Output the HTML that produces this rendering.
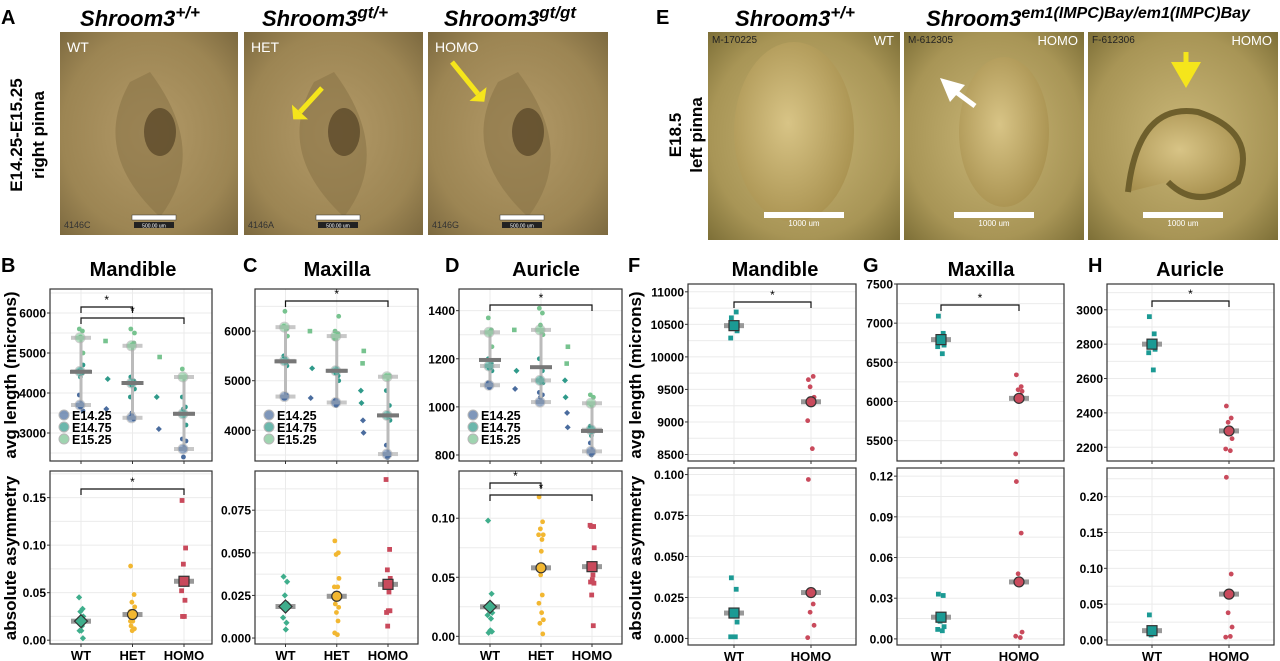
<!DOCTYPE html>
<html><head><meta charset="utf-8"><style>
body{margin:0;background:#fff;}
svg{display:block;font-family:"Liberation Sans",Arial,sans-serif;}
</style></head><body>
<svg id="fig" width="1280" height="661" viewBox="0 0 1280 661" xmlns="http://www.w3.org/2000/svg">
<defs>
<radialGradient id="gA" cx="50%" cy="50%" r="70%"><stop offset="0" stop-color="#b39a68"/><stop offset="0.7" stop-color="#9c8553"/><stop offset="1" stop-color="#7d6a40"/></radialGradient>
<radialGradient id="gE" cx="50%" cy="50%" r="70%"><stop offset="0" stop-color="#c9b677"/><stop offset="0.7" stop-color="#a89556"/><stop offset="1" stop-color="#7e7038"/></radialGradient>
<radialGradient id="ear" cx="45%" cy="45%" r="60%"><stop offset="0" stop-color="#d8c486"/><stop offset="1" stop-color="#a8914f"/></radialGradient>
</defs>
<g id="photos"></g>
<g id="plots"></g>
</svg>
<script>
const NS="http://www.w3.org/2000/svg";
const svg=document.getElementById('fig');
function el(tag,attrs,parent,text){const e=document.createElementNS(NS,tag);for(const k in attrs)e.setAttribute(k,attrs[k]);if(text!==undefined)e.textContent=text;(parent||svg).appendChild(e);return e;}
const photos=document.getElementById('photos');
const plots=document.getElementById('plots');

/* ---------- Photo panels ---------- */
const photoA=[[60,32,178,203,'WT','4146C'],[244,32,179,203,'HET','4146A'],[428,32,180,203,'HOMO','4146G']];
photoA.forEach((p,i)=>{
  const g=el('g',{},photos);
  
  
  el('rect',{x:p[0],y:p[1],width:p[2],height:p[3],fill:'url(#gA)'},g);
  el('path',{d:`M${p[0]+70} ${p[1]+50} Q${p[0]+30} ${p[1]+120} ${p[0]+100} ${p[1]+185} Q${p[0]+150} ${p[1]+120} ${p[0]+90} ${p[1]+40} Z`,fill:'#8a7447',opacity:0.6},g);
  el('ellipse',{cx:p[0]+100,cy:p[1]+100,rx:16,ry:24,fill:'#5c4a2a',opacity:0.8},g);
  el('text',{x:p[0]+7,y:p[1]+20,fill:'#fff','font-size':14},g,p[4]);
  el('text',{x:p[0]+4,y:p[1]+196,fill:'#333','font-size':9},g,p[5]);
  el('rect',{x:p[0]+72,y:p[1]+183,width:44,height:5,fill:'#fff',stroke:'#333','stroke-width':0.5},g);
  el('rect',{x:p[0]+74,y:p[1]+190,width:40,height:6,fill:'#222'},g);
  el('text',{x:p[0]+94,y:p[1]+195.5,fill:'#fff','font-size':5,'text-anchor':'middle'},g,'500.00 um');
});
[[322,88,300,112],[452,62,478,94]].forEach((a,i)=>{
  const ar=el('path',{d:`M${a[0]} ${a[1]} L${a[2]} ${a[3]}`,stroke:'#f5e51b','stroke-width':5},photos);
  
  
  const dx=a[2]-a[0],dy=a[3]-a[1],L=Math.hypot(dx,dy),ux=dx/L,uy=dy/L;
  el('polygon',{points:`${a[2]+ux*10},${a[3]+uy*10} ${a[2]-uy*11},${a[3]+ux*11} ${a[2]+uy*11},${a[3]-ux*11}`,fill:'#f5e51b'},photos);
});
const photoE=[[708,32,192,208,'WT','M-170225'],[904,32,180,208,'HOMO','M-612305'],[1088,32,190,208,'HOMO','F-612306']];
photoE.forEach((p,i)=>{
  const g=el('g',{},photos);
  
  
  el('rect',{x:p[0],y:p[1],width:p[2],height:p[3],fill:'url(#gE)'},g);
  if(i<2) el('ellipse',{cx:p[0]+p[2]/2+(i?10:-10),cy:p[1]+100,rx:i?45:60,ry:i?75:90,fill:'url(#ear)'},g);
  else el('path',{d:`M${p[0]+40} ${p[1]+160} Q${p[0]+50} ${p[1]+70} ${p[0]+110} ${p[1]+80} Q${p[0]+170} ${p[1]+100} ${p[0]+150} ${p[1]+150} Q${p[0]+110} ${p[1]+180} ${p[0]+80} ${p[1]+150}`,fill:'url(#ear)',stroke:'#6e5f2c','stroke-width':6},g);
  el('text',{x:p[0]+4,y:p[1]+11,fill:'#222','font-size':10},g,p[5]);
  el('text',{x:p[0]+p[2]-6,y:p[1]+13,fill:'#fff','font-size':13,'text-anchor':'end'},g,p[4]);
  el('rect',{x:p[0]+p[2]/2-40,y:p[1]+180,width:80,height:6,fill:'#fff'},g);
  el('text',{x:p[0]+p[2]/2,y:p[1]+194,fill:'#fff','font-size':8,'text-anchor':'middle'},g,'1000 um');
});
(function(){const a=el('path',{d:'M948 86 L975 106',stroke:'#fff','stroke-width':5},photos);
el('polygon',{points:'940,78 965,85 950,102',fill:'#fff'},photos);
const b=el('path',{d:'M1186 52 L1186 64',stroke:'#f5e51b','stroke-width':5},photos);
el('polygon',{points:'1171,62 1201,62 1186,88',fill:'#f5e51b'},photos);})();

function head(x,y,sup,name,fs){const t=el('text',{x:x,y:y,'font-size':22,'font-weight':'bold','font-style':'italic','text-anchor':'middle'},photos);

el('tspan',{},t,'Shroom3');el('tspan',{dy:-8,'font-size':fs||17},t,sup);}
head(140,26,'+/+','genotype-title-wt');head(325,26,'gt/+','genotype-title-het');head(510,26,'gt/gt','genotype-title-homo');
head(795,26,'+/+','genotype-title-e-wt');head(1088,26,'em1(IMPC)Bay/em1(IMPC)Bay','genotype-title-e-homo',16);
function letter(x,y,t){const e=el('text',{x:x,y:y,'font-size':20,'font-weight':'bold'},svg,t);}
letter(1,24,'A');letter(656,24,'E');letter(1,272,'B');letter(243,272,'C');letter(445,272,'D');letter(628,272,'F');letter(863,272,'G');letter(1088,272,'H');
function vtext(x,y,t,name,fs){const e=el('text',{x:x,y:y,'font-size':fs||17,'font-weight':'bold','text-anchor':'middle',transform:`rotate(-90 ${x} ${y})`},svg,t);}
vtext(22,135,'E14.25-E15.25','stage-label-a');vtext(44,135,'right pinna','pinna-label-a');
vtext(681,135,'E18.5','stage-label-e');vtext(702,135,'left pinna','pinna-label-e');
vtext(16,375,'avg length (microns)','y-axis-title-length-left');vtext(16,558,'absolute asymmetry','y-axis-title-asym-left');
vtext(641,375,'avg length (microns)','y-axis-title-length-right');vtext(641,558,'absolute asymmetry','y-axis-title-asym-right');

/* ---------- Chart data ---------- */
const COL={lg:'#77c38f',tl:'#2f9a8a',bl:'#4a6c9e',gr:'#3fae8c',ye:'#f2b731',rd:'#c94a5c',tq:'#1b9a94'};
const groups3=['WT','HET','HOMO'];
const groups2=['WT','HOMO'];
const jit=[-0.12,0.1,-0.04,0.14,-0.15,0.06,0.02,-0.09,0.12,-0.02,0.08,-0.13,0.04,0.15,-0.07,0.11];
const bLenWT15=[5600,5550,5400,5000], bLenWT14_75=[4550,4500,4400,4700], bLenWT14_25=[3950,3700,3650,3550];
const bLenHET15=[5600,5250,5200,5500], bLenHET14_75=[4400,4300,4200,4100,3900], bLenHET14_25=[3400,3350,3500];
const bLenHOMO15=[4600,4400], bLenHOMO14_75=[3900,3650,3600,3200], bLenHOMO14_25=[2850,2600,2400,2800];
const bLenMid1=[5300,4350,3600], bLenMid2=[4900,3900,3100];
const bStageMeans=[[3700,4540,5380],[3380,4250,5180],[2600,3480,4400]];
const bMeans=[4530,4250,3480];
const bAsymWT=[0.045,0.033,0.03,0.025,0.02,0.015,0.01,0.01,0.002], bAsymHET=[0.078,0.048,0.04,0.035,0.03,0.025,0.02,0.015,0.012,0.01,0.012,0.02], bAsymHOMO=[0.147,0.097,0.08,0.062,0.052,0.042,0.025,0.025];
const bAsymMeans=[0.02,0.027,0.062];
const cLenWT15=[6100,6050,6400,5900], cLenWT14_75=[5500,5300,5400], cLenWT14_25=[4650,4700,4650];
const cLenHET15=[6000,5950,5900,6300,5850], cLenHET14_75=[5200,5100,5150,5000], cLenHET14_25=[4600,4550,4500];
const cLenHOMO15=[5100,5100], cLenHOMO14_75=[4800,4500,4300,4200], cLenHOMO14_25=[3700,3500,3450];
const cLenMid1=[6000,5250,4650], cLenMid2=[5600,4800,4200,5350,4550,3950];
const cStageMeans=[[4680,5400,6080],[4560,5200,5900],[3520,4300,5080]];
const cMeans=[5390,5200,4300];
const cAsymWT=[0.036,0.033,0.025,0.02,0.012,0.009,0.005], cAsymHET=[0.057,0.05,0.049,0.035,0.03,0.03,0.025,0.02,0.018,0.015,0.01,0.003,0.002], cAsymHOMO=[0.093,0.052,0.04,0.035,0.03,0.027,0.016,0.015,0.016,0.007];
const cAsymMeans=[0.0185,0.0245,0.0315];
const dLenWT15=[1370,1320,1310,1250], dLenWT14_75=[1200,1180,1160,1150], dLenWT14_25=[1100,1090,1080];
const dLenHET15=[1410,1390,1340,1300], dLenHET14_75=[1200,1150,1110,1100], dLenHET14_25=[1060,1050,1040];
const dLenHOMO15=[1050,1040,1010], dLenHOMO14_75=[920,900,880], dLenHOMO14_25=[850,810,800];
const dLenMid1=[1320,1150,1075], dLenMid2=[1250,1110,975,1180,1040,915];
const dStageMeans=[[1090,1170,1310],[1020,1110,1320],[815,905,1015]];
const dMeans=[1195,1165,900];
const dAsymWT=[0.098,0.036,0.025,0.02,0.018,0.015,0.005,0.003,0.004], dAsymHET=[0.118,0.097,0.091,0.086,0.086,0.082,0.072,0.058,0.057,0.052,0.035,0.028,0.02,0.014,0.011,0.002], dAsymHOMO=[0.094,0.093,0.093,0.075,0.06,0.052,0.048,0.046,0.045,0.035,0.009];
const dAsymMeans=[0.025,0.058,0.059];
const fLenWT=[10600,10690,10440,10400,10290], fLenHOMO=[9650,9700,9540,9380,9020,8590], fLenMeans=[10480,9310];
const fAsymWT=[0.037,0.03,0.015,0.01,0.001,0.001], fAsymHOMO=[0.097,0.021,0.016,0.008,0.0005], fAsymMeans=[0.0155,0.028];
const gLenWT=[7090,6870,6750,6720,6700,6610], gLenHOMO=[6340,6190,6150,6130,5330], gLenMeans=[6790,6040];
const gAsymWT=[0.033,0.032,0.013,0.009,0.007,0.006], gAsymHOMO=[0.116,0.078,0.048,0.005,0.002,0.001], gAsymMeans=[0.016,0.042];
const hLenWT=[2960,2860,2810,2770,2750,2650], hLenHOMO=[2440,2370,2345,2250,2190,2180], hLenMeans=[2800,2295];
const hAsymWT=[0.035,0.012,0.007,0.01], hAsymHOMO=[0.227,0.092,0.038,0.018,0.004,0.005], hAsymMeans=[0.013,0.064];
const bLenTicks=[3000,4000,5000,6000], bAsymTicks=[0,0.05,0.10,0.15], bAsymLabels=['0.00','0.05','0.10','0.15'];
const cLenTicks=[4000,5000,6000], cAsymTicks=[0,0.025,0.05,0.075], cAsymLabels=['0.000','0.025','0.050','0.075'];
const dLenTicks=[800,1000,1200,1400], dAsymTicks=[0,0.05,0.10], dAsymLabels=['0.00','0.05','0.10'];
const fLenTicks=[8500,9000,9500,10000,10500,11000], fAsymTicks=[0,0.025,0.05,0.075,0.1], fAsymLabels=['0.000','0.025','0.050','0.075','0.100'];
const gLenTicks=[5500,6000,6500,7000,7500], gAsymTicks=[0,0.03,0.06,0.09,0.12], gAsymLabels=['0.00','0.03','0.06','0.09','0.12'];
const hLenTicks=[2200,2400,2600,2800,3000], hAsymTicks=[0,0.05,0.1,0.15,0.2], hAsymLabels=['0.00','0.05','0.10','0.15','0.20'];

/* ---------- Plot helpers ---------- */
function panel(name,x0,x1,y0,y1,v0,v1,cats,cx0,cx1,ticks,labels,showX){
  const g=el('g',{},plots);
  
  
  const ys=v=>y1-(v-v0)/(v1-v0)*(y1-y0);
  const xs=i=>cx0+(cx1-cx0)*i/(cats.length-1);
  el('rect',{x:x0,y:y0,width:x1-x0,height:y1-y0,fill:'#fff'},g);
  const st=(ticks[1]-ticks[0])/2;
  for(let k=-6;k<=ticks.length*2+6;k++){const v=ticks[0]+st*k;const yy=ys(v);if(yy>y0&&yy<y1)el('line',{x1:x0,x2:x1,y1:yy,y2:yy,stroke:'#ebebeb','stroke-width':1},g);}
  cats.forEach((c,i)=>{el('line',{x1:xs(i),x2:xs(i),y1:y0,y2:y1,stroke:'#ebebeb'},g);
    el('line',{x1:xs(i),x2:xs(i),y1:y1,y2:y1+3,stroke:'#333'},g);
    if(showX){const t=el('text',{x:xs(i),y:y1+16,'font-size':13,'font-weight':'bold','text-anchor':'middle'},g,c);}});
  ticks.forEach((v,i)=>{const yy=ys(v);el('line',{x1:x0-3,x2:x0,y1:yy,y2:yy,stroke:'#333'},g);
    const t=el('text',{x:x0-4,y:yy+4.5,'font-size':12,'font-weight':'bold','text-anchor':'end'},g,labels?labels[i]:String(v));});
  el('rect',{x:x0,y:y0,width:x1-x0,height:y1-y0,fill:'none',stroke:'#333','stroke-width':1.2},g);
  return {g,xs,ys};
}
function pt(P,shape,x,y,c,r){
  let e;
  if(shape==='c') e=el('circle',{cx:x,cy:y,r:r,fill:c},P.g);
  else if(shape==='s') e=el('rect',{x:x-r,y:y-r,width:2*r,height:2*r,fill:c},P.g);
  else e=el('polygon',{points:`${x},${y-r*1.3} ${x+r*1.3},${y} ${x},${y+r*1.3} ${x-r*1.3},${y}`,fill:c},P.g);
  
  
  return e;
}
function scatter(P,gi,vals,shape,col,spread){vals.forEach((v,k)=>pt(P,shape,P.xs(gi)+jit[k%jit.length]*spread,P.ys(v),col,2.4));}
function bracket(P,i,j,y,name){const g=el('g',{},P.g);
  el('path',{d:`M${P.xs(i)} ${y+6} V${y} H${P.xs(j)} V${y+6}`,fill:'none',stroke:'#111','stroke-width':1.2},g);
  el('text',{x:(P.xs(i)+P.xs(j))/2,y:y-3,'font-size':12,'text-anchor':'middle'},g,'*');}
function meanMark(P,gi,v,shape,col){
  el('rect',{x:P.xs(gi)-10,y:P.ys(v)-2.5,width:20,height:5,fill:'#999'},P.g);
  const e=pt(P,shape,P.xs(gi),P.ys(v),col,5);e.setAttribute('stroke','#333');e.setAttribute('stroke-width','1.2');
  
}
function lenPanel(name,x0,x1,y0,y1,v0,v1,cx0,cx1,ticks,S15,S75,S25,mid1,mid2,stageMeans,means,legend){
  const P=panel(name,x0,x1,y0,y1,v0,v1,groups3,cx0,cx1,ticks,null,false);
  const cols=[COL.bl,COL.tl,COL.lg];
  [S25,S75,S15].forEach((arr,s)=>arr.forEach((vals,gi)=>scatter(P,gi,vals,'c',cols[s],14)));
  mid1.forEach((v,k)=>pt(P,k%3===0?'s':'d',P.xs(0.5)+jit[k]*10,P.ys(v),cols[2-(k%3)],2.3));
  mid2.forEach((v,k)=>pt(P,k%3===0?'s':'d',P.xs(1.5)+jit[k+3]*10,P.ys(v),cols[2-(k%3)],2.3));
  stageMeans.forEach((sm,gi)=>{
    el('line',{x1:P.xs(gi),x2:P.xs(gi),y1:P.ys(sm[0]),y2:P.ys(sm[2]),stroke:'#bbb','stroke-width':3},P.g);
    sm.forEach((v,s)=>{el('rect',{x:P.xs(gi)-10,y:P.ys(v)-2,width:20,height:4,fill:'#c8c8c8'},P.g);
      el('circle',{cx:P.xs(gi)-1,cy:P.ys(v),r:5,fill:cols[s],opacity:0.55,stroke:'#aaa'},P.g);});
    el('rect',{x:P.xs(gi)-11,y:P.ys(means[gi])-2,width:22,height:4,fill:'#777'},P.g);
  });
  if(legend){const lg=el('g',{},P.g);
    ['E14.25','E14.75','E15.25'].forEach((t,s)=>{const yy=y1-46+s*12;
      el('circle',{cx:x0+14,cy:yy,r:5,fill:cols[s],opacity:0.7,stroke:'#999'},lg);
      el('text',{x:x0+22,y:yy+5,'font-size':12.5,'font-weight':'bold'},lg,t);});}
  return P;
}
function asymPanel(name,x0,x1,y0,y1,v0,v1,cx0,cx1,ticks,labels,arrs,means){
  const P=panel(name,x0,x1,y0,y1,v0,v1,groups3,cx0,cx1,ticks,labels,true);
  const sh=['d','c','s'],cl=[COL.gr,COL.ye,COL.rd];
  arrs.forEach((vals,gi)=>scatter(P,gi,vals,sh[gi],cl[gi],16));
  means.forEach((v,gi)=>meanMark(P,gi,v,sh[gi],cl[gi]));
  return P;
}
function twoPanel(name,x0,x1,y0,y1,v0,v1,cx0,cx1,ticks,labels,wt,homo,means,showX){
  const P=panel(name,x0,x1,y0,y1,v0,v1,groups2,cx0,cx1,ticks,labels,showX);
  scatter(P,0,wt,'s',COL.tq,22);scatter(P,1,homo,'c',COL.rd,22);
  meanMark(P,0,means[0],'s',COL.tq);meanMark(P,1,means[1],'c',COL.rd);
  return P;
}
function title(x,t){const e=el('text',{x:x,y:276,'font-size':20,'font-weight':'bold','text-anchor':'middle'},svg,t);}
title(133,'Mandible');title(337,'Maxilla');title(546,'Auricle');title(775,'Mandible');title(981,'Maxilla');title(1190,'Auricle');

let P=lenPanel('mandible-length-b',50,212,289,461,2300,6600,81,184,bLenTicks,
  [bLenWT15,bLenHET15,bLenHOMO15],[bLenWT14_75,bLenHET14_75,bLenHOMO14_75],[bLenWT14_25,bLenHET14_25,bLenHOMO14_25],bLenMid1,bLenMid2,bStageMeans,bMeans,true);
bracket(P,0,1,307,'sig-wt-het');bracket(P,0,2,318,'sig-wt-homo');
P=asymPanel('mandible-asym-b',50,212,471,644,-0.004,0.178,81,184,bAsymTicks,bAsymLabels,[bAsymWT,bAsymHET,bAsymHOMO],bAsymMeans);
bracket(P,0,2,489,'sig-wt-homo');
P=lenPanel('maxilla-length-c',255,418,289,461,3380,6850,285.5,388,cLenTicks,
  [cLenWT15,cLenHET15,cLenHOMO15],[cLenWT14_75,cLenHET14_75,cLenHOMO14_75],[cLenWT14_25,cLenHET14_25,cLenHOMO14_25],cLenMid1,cLenMid2,cStageMeans,cMeans,true);
bracket(P,0,2,301,'sig-wt-homo');
asymPanel('maxilla-asym-c',255,418,471,644,-0.0035,0.098,285.5,388,cAsymTicks,cAsymLabels,[cAsymWT,cAsymHET,cAsymHOMO],cAsymMeans);
P=lenPanel('auricle-length-d',459,622,289,461,775,1490,490,592,dLenTicks,
  [dLenWT15,dLenHET15,dLenHOMO15],[dLenWT14_75,dLenHET14_75,dLenHOMO14_75],[dLenWT14_25,dLenHET14_25,dLenHOMO14_25],dLenMid1,dLenMid2,dStageMeans,dMeans,true);
bracket(P,0,2,305,'sig-wt-homo');
P=asymPanel('auricle-asym-d',459,622,471,644,-0.0065,0.14,490,592,dAsymTicks,dAsymLabels,[dAsymWT,dAsymHET,dAsymHOMO],dAsymMeans);
bracket(P,0,1,483,'sig-wt-het');bracket(P,0,2,495,'sig-wt-homo');
P=twoPanel('mandible-length-f',688,856,284,461,8400,11120,734,811,fLenTicks,null,fLenWT,fLenHOMO,fLenMeans,false);
bracket(P,0,1,302,'sig-wt-homo');
twoPanel('mandible-asym-f',688,856,468,645,-0.004,0.104,734,811,fAsymTicks,fAsymLabels,fAsymWT,fAsymHOMO,fAsymMeans,true);
P=twoPanel('maxilla-length-g',897,1064,284,461,5240,7500,941,1019,gLenTicks,null,gLenWT,gLenHOMO,gLenMeans,false);
bracket(P,0,1,305,'sig-wt-homo');
twoPanel('maxilla-asym-g',897,1064,468,645,-0.0045,0.126,941,1019,gAsymTicks,gAsymLabels,gAsymWT,gAsymHOMO,gAsymMeans,true);
P=twoPanel('auricle-length-h',1107,1274,284,461,2120,3150,1152,1229,hLenTicks,null,hLenWT,hLenHOMO,hLenMeans,false);
bracket(P,0,1,301,'sig-wt-homo');
twoPanel('auricle-asym-h',1107,1274,468,645,-0.007,0.24,1152,1229,hAsymTicks,hAsymLabels,hAsymWT,hAsymHOMO,hAsymMeans,true);
</script>
</body></html>
